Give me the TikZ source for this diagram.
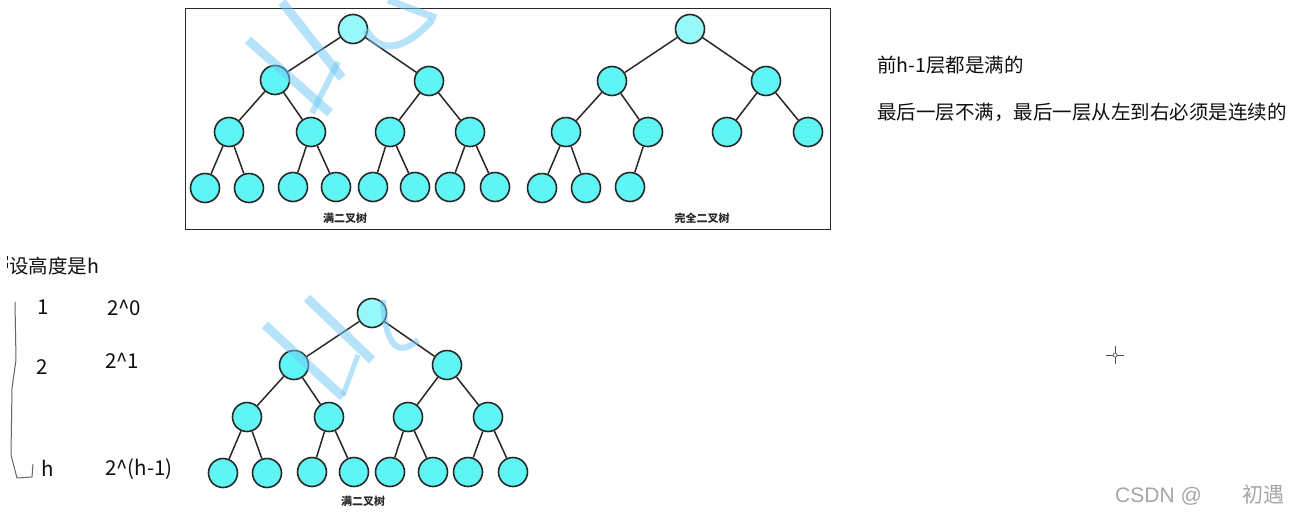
\documentclass[tikz,border=0pt]{standalone}
\usepackage{fontspec}
\setmainfont{Noto Sans CJK SC}
\newfontfamily\latinsans{Liberation Sans}
\definecolor{nodefill}{RGB}{96,245,245}
\definecolor{rootfill}{RGB}{150,248,248}
\definecolor{edgecol}{RGB}{40,40,40}
\definecolor{wmblue}{RGB}{110,200,245}
\definecolor{txt}{RGB}{15,15,15}
\begin{document}
\begin{tikzpicture}[x=1pt,y=-1pt,
  tn/.style={circle,draw=edgecol,line width=1.6pt,fill=nodefill,minimum size=29pt,inner sep=0pt},
  rn/.style={tn,fill=rootfill},
  ed/.style={draw=edgecol,line width=1.5pt},
  treelabel/.style={font=\fontsize{11}{11}\selectfont\bfseries,text=edgecol,inner sep=0pt},
  bigtxt/.style={font=\fontsize{19.5}{20}\selectfont,text=txt,anchor=base west,inner sep=0pt},
  numtxt/.style={font=\fontsize{20.5}{21}\selectfont,text=txt,anchor=base west,inner sep=0pt},
  wm/.style={draw=wmblue,opacity=0.5,line width=9pt}]
\useasboundingbox[fill=white] (0,0) rectangle (1293,517);

% frame of top trees
\node[draw=edgecol,line width=1.3pt,minimum width=645pt,minimum height=221pt,inner sep=0pt,anchor=north west] (frame) at (185,8) {};

% ---------- tree 1 (full) ----------
\node[rn] (a) at (353,29) {};
\node[tn] (a1) at (275,80) {};
\node[tn] (a2) at (429,81) {};
\node[tn] (a11) at (229,132) {};
\node[tn] (a12) at (311,132) {};
\node[tn] (a21) at (390,132) {};
\node[tn] (a22) at (470,132) {};
\node[tn] (a111) at (205,188) {};
\node[tn] (a112) at (249,188) {};
\node[tn] (a121) at (293,187) {};
\node[tn] (a122) at (336,187) {};
\node[tn] (a211) at (373,187) {};
\node[tn] (a212) at (415,187) {};
\node[tn] (a221) at (450,187) {};
\node[tn] (a222) at (495,187) {};
\foreach \p/\c in {a/a1,a/a2,a1/a11,a1/a12,a2/a21,a2/a22,a11/a111,a11/a112,a12/a121,a12/a122,a21/a211,a21/a212,a22/a221,a22/a222}
  \draw[ed] (\p) -- (\c);
\node[treelabel] (capa) at (345,218) {满二叉树};

% ---------- tree 2 (complete) ----------
\node[rn] (b) at (690,29) {};
\node[tn] (b1) at (612,81) {};
\node[tn] (b2) at (766,81) {};
\node[tn] (b11) at (566,132) {};
\node[tn] (b12) at (648,132) {};
\node[tn] (b21) at (727,132) {};
\node[tn] (b22) at (808,132) {};
\node[tn] (b111) at (542,188) {};
\node[tn] (b112) at (586,188) {};
\node[tn] (b121) at (630,187) {};
\foreach \p/\c in {b/b1,b/b2,b1/b11,b1/b12,b2/b21,b2/b22,b11/b111,b11/b112,b12/b121}
  \draw[ed] (\p) -- (\c);
\node[treelabel] (capb) at (702,218) {完全二叉树};

% ---------- tree 3 (full, bottom) ----------
\node[rn] (c) at (372,313) {};
\node[tn] (c1) at (294,365) {};
\node[tn] (c2) at (447,365) {};
\node[tn] (c11) at (247,417) {};
\node[tn] (c12) at (329,417) {};
\node[tn] (c21) at (408,417) {};
\node[tn] (c22) at (488,417) {};
\node[tn] (c111) at (223,473) {};
\node[tn] (c112) at (267,473) {};
\node[tn] (c121) at (312,472) {};
\node[tn] (c122) at (354,472) {};
\node[tn] (c211) at (390,472) {};
\node[tn] (c212) at (433,472) {};
\node[tn] (c221) at (468,472) {};
\node[tn] (c222) at (513,472) {};
\foreach \p/\c in {c/c1,c/c2,c1/c11,c1/c12,c2/c21,c2/c22,c11/c111,c11/c112,c12/c121,c12/c122,c21/c211,c21/c212,c22/c221,c22/c222}
  \draw[ed] (\p) -- (\c);
\node[treelabel] (capc) at (363,501) {满二叉树};

% ---------- watermark strokes ----------
\draw[wm] (248,40) -- (330,113);
\draw[wm] (282,2) -- (342,78);
\draw[wm,line width=6pt] (312,113) -- (338,62);
\draw[wm,line width=7pt] (366,30) .. controls (380,55) and (405,50) .. (432,20);
\draw[wm,line width=7pt] (388,0) -- (436,18);
\draw[wm] (265,325) -- (343,397);
\draw[wm] (307,298) -- (372,360);
\draw[wm,line width=5pt] (343,395) -- (358,355);
\draw[wm,line width=6pt] (383,300) .. controls (385,340) and (395,360) .. (418,340);

% ---------- right texts ----------
\node[bigtxt] (t1) at (877,72) {前h-1层都是满的};
\node[bigtxt] (t2) at (877,119) {最后一层不满，最后一层从左到右必须是连续的};

% ---------- left texts ----------
\node[bigtxt,font=\fontsize{19.5}{20}\selectfont] (t3) at (9,273) {设高度是h};
\draw[txt,line width=0.9pt] (7.5,256) -- (7.5,260);
\draw[txt,line width=0.9pt] (7.5,263) -- (7.5,268);
\node[numtxt] (n1) at (37,314) {1};
\node[numtxt] (p1) at (107,315) {2\^{}0};
\node[numtxt] (n2) at (36,374) {2};
\node[numtxt] (p2) at (105,368) {2\^{}1};
\node[numtxt] (nh) at (41,476) {h};
\node[numtxt] (ph) at (105,475) {2\^{}(h-1)};
\draw[gray!80!black,line width=1pt,line join=round] (15,302) -- (16,360) -- (12,388) -- (11,455) -- (17,478) -- (32,477) -- (33,464);

% ---------- cursor ----------
\draw[gray!60!black,line width=1pt] (1106,355) -- (1124,355) (1115,346) -- (1115,364);
\draw[gray!60!black,fill=white,line width=0.6pt] (1115,355) circle (2pt);

% ---------- CSDN mark ----------
\node[anchor=base west,inner sep=0pt,text=gray!70,font=\latinsans\fontsize{21}{21}\selectfont] (csdn) at (1115,502) {CSDN @};
\node[anchor=base west,inner sep=0pt,text=gray!70,font=\fontsize{21}{21}\selectfont] (name) at (1242,502) {初遇};
\end{tikzpicture}
\end{document}
